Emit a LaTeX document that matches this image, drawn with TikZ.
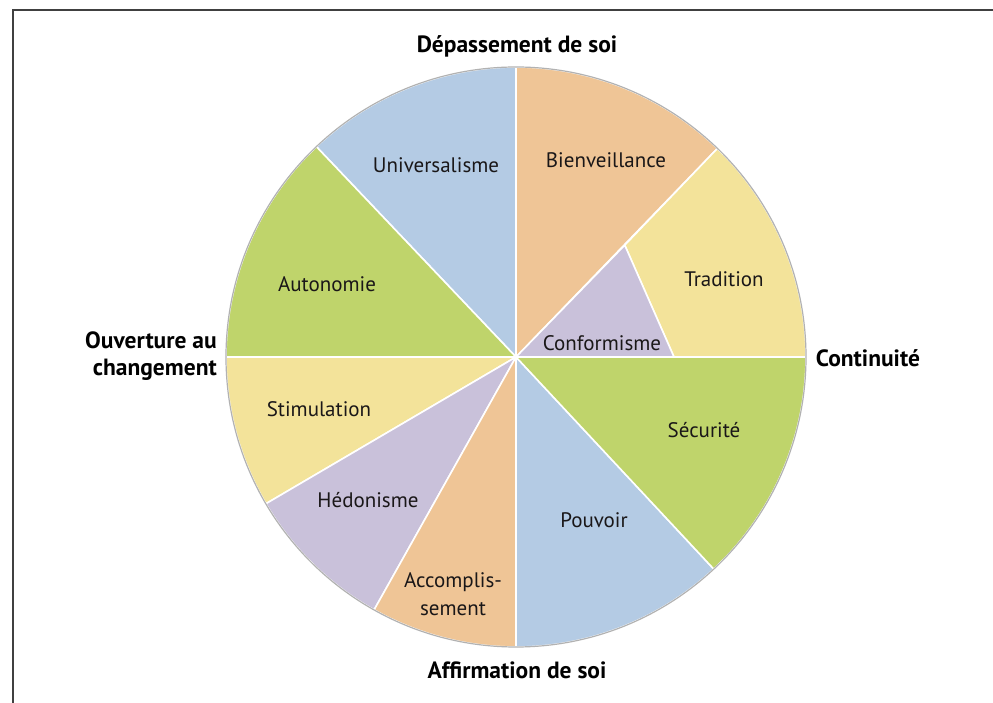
\documentclass[tikz,border=0pt]{standalone}
\usepackage{fontspec}
\setmainfont{PT Sans}
\usepackage{tikz}
\definecolor{peach}{HTML}{EFC596}
\definecolor{sky}{HTML}{B4CBE4}
\definecolor{leaf}{HTML}{BFD46B}
\definecolor{straw}{HTML}{F3E39A}
\definecolor{lilac}{HTML}{C9C1DA}
\definecolor{ink}{HTML}{1A1718}
\tikzstyle{every node}+=[inner sep=0pt]
\tikzstyle{sector} = [draw=white, line width=1.6pt, line join=round]
\tikzstyle{value} = [font=\fontsize{21}{28}\selectfont, text=ink, align=center]
\tikzstyle{pole} = [font=\bfseries\fontsize{23.5}{27}\selectfont, text=black]

\begin{document}
\begin{tikzpicture}[x=1pt, y=1pt]
            \useasboundingbox (-516,-346) rectangle (477,357);
            % Frame
            \draw [line width=2pt, black!75] (-503,-346) -- (-503,347) -- (477,347);
            % Draw sectors
            \filldraw [sector, fill=peach] (0,0) -- (46:290) arc [start angle=46, end angle=90, radius=290] -- cycle;
            \filldraw [sector, fill=sky] (0,0) -- (90:290) arc [start angle=90, end angle=133.5, radius=290] -- cycle;
            \filldraw [sector, fill=leaf] (0,0) -- (133.5:290) arc [start angle=133.5, end angle=180, radius=290] -- cycle;
            \filldraw [sector, fill=straw] (0,0) -- (180:290) arc [start angle=180, end angle=210.4, radius=290] -- cycle;
            \filldraw [sector, fill=lilac] (0,0) -- (210.4:290) arc [start angle=210.4, end angle=240.7, radius=290] -- cycle;
            \filldraw [sector, fill=peach] (0,0) -- (240.7:290) arc [start angle=240.7, end angle=270, radius=290] -- cycle;
            \filldraw [sector, fill=sky] (0,0) -- (270:290) arc [start angle=270, end angle=313, radius=290] -- cycle;
            \filldraw [sector, fill=leaf] (0,0) -- (313:290) arc [start angle=313, end angle=360, radius=290] -- cycle;
            \filldraw [sector, fill=straw] (158,0) -- (290,0) arc [start angle=0, end angle=46, radius=290] -- (45.8:156) -- cycle;
            \filldraw [sector, fill=lilac] (0,0) -- (158,0) -- (45.8:156) -- cycle;
            \draw [black!30, line width=1.2pt] (0,0) circle [radius=290];
            % Place nodes
            \node [value] (univ) at (-80,192) {Universalisme};
            \node [value] (bienv) at (90,197) {Bienveillance};
            \node [value] (trad) at (208,78) {Tradition};
            \node [value] (conf) at (86,14) {Conformisme};
            \node [value] (auto) at (-189,73) {Autonomie};
            \node [value] (stim) at (-197,-52) {Stimulation};
            \node [value] (secu) at (188,-73) {Sécurité};
            \node [value] (hedo) at (-148,-143) {Hédonisme};
            \node [value] (pouv) at (78,-163) {Pouvoir};
            \node [value] (accom) at (-63,-237) {Accomplis-\\sement};
            \node [pole] (depas) at (1,311) {Dépassement de soi};
            \node [pole] (conti) at (352,-1) {Continuité};
            \node [pole, align=right, anchor=east] (ouver) at (-299,1) {Ouverture au\\changement};
            \node [pole] (affir) at (1,-313) {Affirmation de soi};
\end{tikzpicture}
\end{document}
